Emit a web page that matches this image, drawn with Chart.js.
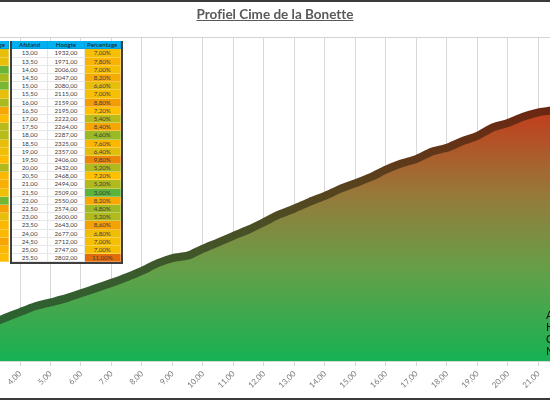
<!DOCTYPE html>
<html>
<head>
<meta charset="utf-8">
<script src="https://cdn.jsdelivr.net/npm/chart.js@4.4.1/dist/chart.umd.min.js"></script>
<style>
  html, body { margin: 0; padding: 0; background: #fff; }
  #wrap { position: relative; width: 550px; height: 400px; overflow: hidden; font-family: Lato, "Open Sans", sans-serif;
          font-variant-ligatures: none; }
  #profileChart { position: absolute; left: 0; top: 0; }
  .frame { position: absolute; left: 0; width: 550px; background: #3a3a3a; }
  #title { position: absolute; top: 6px; left: 0; width: 550px; text-align: center; font-weight: bold;
           font-size: 13.5px; color: #595959; text-decoration: underline; }
  .tbl { position: absolute; top: 41.3px; display: grid; grid-auto-rows: 8.2px; background: #fff; }
  #leftTable { left: -28px; grid-template-columns: 36.7px; }
  #rightTable { left: 10px; grid-template-columns: repeat(3, 36.3px);
                border-left: 2px solid #3f3f3f; border-right: 2px solid #3f3f3f; border-bottom: 2px solid #3f3f3f; }
  .cell { box-sizing: border-box; height: 8.2px; line-height: 8.2px; text-align: center; font-size: 6.2px; color: #404040;
          white-space: nowrap; overflow: hidden; border-right: 1px solid #e6e6e6; border-bottom: 1px solid #e6e6e6; }
  .head { background: #00b0f0; color: #1c1c1c; border-color: #00a0dc; }
  .pct { border-color: rgba(255, 255, 255, 0.3); }
  #note { position: absolute; left: 546px; top: 309px; font-size: 11px; line-height: 12px; color: #111; }
</style>
</head>
<body>
<div id="wrap">
  <canvas id="profileChart" width="550" height="400"></canvas>
  <div id="title">Profiel Cime de la Bonette</div>
  <div class="tbl" id="leftTable"></div>
  <div class="tbl" id="rightTable"></div>
  <div id="note">A<br>H<br>C<br>M</div>
  <div class="frame" style="top:0;height:1.5px"></div>
  <div class="frame" style="top:398px;height:2px"></div>
</div>
<script>
// profile (km 3 - 12.5), rest comes from the table
const profileKm = [3.0, 3.5, 4.0, 4.5, 5.0, 5.5, 6.0, 6.5, 7.0, 7.5, 8.0, 8.5, 9.0, 9.5, 10.0, 10.5, 11.0, 11.5, 12.0, 12.5];
const profileHeight = [1256, 1291, 1326, 1360, 1383, 1406, 1436, 1466, 1497, 1530, 1567, 1611, 1642, 1656, 1697, 1734, 1772, 1809, 1852, 1897];

const tableKm = [13.0, 13.5, 14.0, 14.5, 15.0, 15.5, 16.0, 16.5, 17.0, 17.5, 18.0, 18.5, 19.0,
                 19.5, 20.0, 20.5, 21.0, 21.5, 22.0, 22.5, 23.0, 23.5, 24.0, 24.5, 25.0, 25.5];
const tableHeight = [1932, 1971, 2006, 2047, 2080, 2115, 2159, 2195, 2222, 2264, 2287, 2325, 2357,
                     2406, 2432, 2468, 2494, 2509, 2550, 2574, 2600, 2643, 2677, 2712, 2747, 2802];
const tablePct = [7.0, 7.8, 7.0, 8.2, 6.6, 7.0, 8.8, 7.2, 5.4, 8.4, 4.6, 7.6, 6.4,
                  9.8, 5.2, 7.2, 5.2, 3.0, 8.2, 4.8, 5.2, 8.6, 6.8, 7.0, 7.0, 11.0];
// only the last column of the first table shows at the left edge
const leftPct = [6.6, 6.6, 3.4, 5.0, 3.8, 6.6, 5.0, 8.4, 7.4, 5.4, 5.4, 6.6, 6.8,
                 7.4, 5.2, 7.6, 8.0, 6.8, 3.6, 8.6, 6.6, 7.6, 7.6, 8.4, 7.6, 7.4];
const headers = ['Afstand', 'Hoogte', 'Percentage'];

const tickKm = [4, 5, 6, 7, 8, 9, 10, 11, 12, 13, 14, 15, 16, 17, 18, 19, 20, 21];
const xRange = [3.344, 21.38];
const yRange = [1040, 2935];

function fmt(v) { return v.toFixed(2).replace('.', ','); }

// conditional formatting colour scale green - yellow - orange
function pctColor(p) {
  const stops = [[3.0, [90, 180, 60]], [7.2, [255, 192, 0]], [11.0, [226, 107, 10]]];
  let a = stops[0], b = stops[1];
  if (p > stops[1][0]) { a = stops[1]; b = stops[2]; }
  const t = Math.min(1, Math.max(0, (p - a[0]) / (b[0] - a[0])));
  const c = a[1].map((v, i) => Math.round(v + (b[1][i] - v) * t));
  return 'rgb(' + c.join(',') + ')';
}

function addCell(parent, text, cls, bg) {
  const d = document.createElement('div');
  d.className = 'cell ' + (cls || '');
  d.textContent = text;
  if (bg) d.style.background = bg;
  parent.appendChild(d);
}

const left = document.getElementById('leftTable');
addCell(left, headers[2], 'head');
leftPct.forEach(p => addCell(left, fmt(p) + '%', 'pct', pctColor(p)));

const right = document.getElementById('rightTable');
headers.forEach(h => addCell(right, h, 'head'));
tableKm.forEach((k, i) => {
  addCell(right, fmt(k));
  addCell(right, fmt(tableHeight[i]));
  addCell(right, fmt(tablePct[i]) + '%', 'pct', pctColor(tablePct[i]));
});

const allKm = profileKm.concat(tableKm);
const allHeight = profileHeight.concat(tableHeight);

const fillStops = [[0, '#c8321a'], [0.2, '#be431f'], [0.45, '#967a3a'], [0.7, '#64a048'], [1, '#16b254']];
const lineStops = [[0, '#701c0c'], [0.2, '#6a2a14'], [0.45, '#55461f'], [0.7, '#3b5a2c'], [1, '#1f6a35']];

function profileGradient(chart, stops) {
  const { ctx, chartArea, scales } = chart;
  if (!chartArea) return null;
  const top = scales.y.getPixelForValue(Math.max(...allHeight));
  const g = ctx.createLinearGradient(0, top, 0, chartArea.bottom);
  stops.forEach(s => g.addColorStop(s[0], s[1]));
  return g;
}

const topLine = {
  id: 'topLine',
  beforeDatasetsDraw(chart) {
    const { ctx, chartArea } = chart;
    ctx.save();
    ctx.strokeStyle = '#d4d4d4';
    ctx.lineWidth = 1;
    ctx.beginPath();
    ctx.moveTo(chartArea.left, chartArea.top + 0.5);
    ctx.lineTo(chartArea.right, chartArea.top + 0.5);
    ctx.stroke();
    ctx.restore();
  }
};

new Chart(document.getElementById('profileChart'), {
  type: 'line',
  data: {
    datasets: [{
      data: allKm.map((k, i) => ({ x: k, y: allHeight[i] })),
      fill: 'start',
      backgroundColor: c => profileGradient(c.chart, fillStops),
      borderColor: c => profileGradient(c.chart, lineStops),
      borderWidth: 8,
      borderJoinStyle: 'round',
      tension: 0.25,
      pointRadius: 0
    }]
  },
  options: {
    responsive: false,
    animation: false,
    layout: { padding: { top: 37, left: 0, right: 0, bottom: 0 } },
    plugins: { legend: { display: false }, tooltip: { enabled: false } },
    scales: {
      x: {
        type: 'linear',
        min: xRange[0],
        max: xRange[1],
        afterBuildTicks: s => { s.ticks = tickKm.map(v => ({ value: v })); },
        afterFit: s => { s.height = 39; s.paddingLeft = 0; s.paddingRight = 0; },
        ticks: {
          autoSkip: false,
          minRotation: 45,
          maxRotation: 45,
          color: '#7a7a7a',
          font: { family: 'Lato', size: 8 },
          callback: v => fmt(v)
        },
        grid: { color: '#d9d9d9', tickLength: 5 },
        border: { color: '#d9d9d9' }
      },
      y: { display: false, min: yRange[0], max: yRange[1] }
    }
  },
  plugins: [topLine]
});
</script>
</body>
</html>
